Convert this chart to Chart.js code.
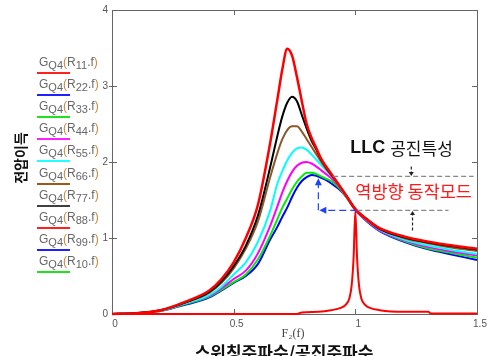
<!DOCTYPE html>
<html>
<head>
<meta charset="utf-8">
<script src="https://cdn.jsdelivr.net/npm/chart.js@4.4.0/dist/chart.umd.min.js"></script>
<style>
body { margin: 0; background: #fff; }
#wrap { position: relative; width: 492px; height: 356px; overflow: hidden; }
.item { position: absolute; left: 39px; font: 12px "Liberation Sans", Arial, sans-serif; color: #666; white-space: nowrap; }
.item .s { position: relative; top: 3px; font-size: 11px; }
.item .p { color: #c8873a; }
.item .ln { position: absolute; left: -2px; top: 17px; width: 33px; height: 2px; }
</style>
</head>
<body>
<div id="wrap">
  <canvas id="gainChart" width="492" height="356"></canvas>
  <div id="legend"></div>
</div>
<script>
// normalised switching frequency
const xs = [0, 0.1, 0.2, 0.3, 0.4, 0.45, 0.5, 0.55, 0.6, 0.65, 0.68, 0.7, 0.72, 0.74, 0.76, 0.78,
            0.8, 0.82, 0.84, 0.86, 0.88, 0.9, 0.93, 0.96, 1.0, 1.05, 1.1, 1.2, 1.3, 1.4, 1.5];

// voltage gain curves
const gainRed     = [0, 0.01, 0.05, 0.16, 0.31, 0.46, 0.68, 1.0, 1.44, 2.25, 2.83, 3.22, 3.49, 3.40, 3.12, 2.8,
                     2.5, 2.32, 2.18, 2.04, 1.94, 1.85, 1.71, 1.57, 1.38, 1.24, 1.13, 1.02, 0.95, 0.9, 0.86];
const gainBlack   = [0, 0.01, 0.05, 0.15, 0.29, 0.43, 0.63, 0.9, 1.3, 1.93, 2.35, 2.6, 2.78, 2.86, 2.8, 2.62,
                     2.44, 2.28, 2.16, 2.03, 1.93, 1.84, 1.71, 1.57, 1.38, 1.24, 1.12, 1.01, 0.94, 0.89, 0.85];
const gainBrown   = [0, 0.01, 0.05, 0.15, 0.28, 0.41, 0.6, 0.86, 1.22, 1.8, 2.12, 2.3, 2.42, 2.47, 2.47, 2.4,
                     2.3, 2.2, 2.1, 2.0, 1.91, 1.83, 1.7, 1.57, 1.38, 1.23, 1.12, 1.0, 0.93, 0.87, 0.83];
const gainCyan    = [0, 0.01, 0.045, 0.14, 0.25, 0.36, 0.52, 0.68, 0.95, 1.36, 1.72, 1.88, 2.02, 2.12, 2.18, 2.19,
                     2.16, 2.1, 2.03, 1.96, 1.89, 1.82, 1.7, 1.56, 1.38, 1.23, 1.11, 0.98, 0.9, 0.84, 0.79];
const gainMagenta = [0, 0.01, 0.045, 0.14, 0.24, 0.34, 0.46, 0.57, 0.8, 1.16, 1.42, 1.6, 1.75, 1.87, 1.95, 1.99,
                     2.0, 1.98, 1.94, 1.89, 1.84, 1.79, 1.69, 1.56, 1.37, 1.22, 1.1, 0.97, 0.88, 0.82, 0.77];
const gainGreen   = [0, 0.01, 0.04, 0.13, 0.23, 0.32, 0.42, 0.52, 0.72, 1.03, 1.25, 1.4, 1.52, 1.64, 1.74, 1.81,
                     1.86, 1.86, 1.84, 1.81, 1.78, 1.75, 1.67, 1.55, 1.37, 1.22, 1.1, 0.96, 0.86, 0.8, 0.74];
const gainBlue    = [0, 0.01, 0.04, 0.12, 0.22, 0.31, 0.41, 0.5, 0.66, 0.98, 1.15, 1.28, 1.4, 1.54, 1.66, 1.75,
                     1.8, 1.83, 1.82, 1.79, 1.76, 1.72, 1.65, 1.55, 1.37, 1.21, 1.09, 0.95, 0.85, 0.78, 0.71];

// narrow resonance spike (reverse operation)
const spikeX = [0, 0.3, 0.76, 0.78, 0.85, 0.9, 0.94, 0.96, 0.975, 0.985, 0.993, 1.0, 1.007, 1.015, 1.025,
                1.04, 1.06, 1.1, 1.2, 1.3, 1.31, 1.5];
const spikeY = [0, 0, 0, 0.02, 0.03, 0.05, 0.08, 0.12, 0.2, 0.38, 0.75, 1.36, 0.75, 0.38, 0.2,
                0.12, 0.08, 0.05, 0.03, 0.03, 0.005, 0.005];

const xTicks = [0, 0.5, 1, 1.5];
const yTicks = [0, 1, 2, 3, 4];

// legend entries
const legendIdx = ['11', '22', '33', '44', '55', '66', '77', '88', '99', '10'];
const legendColors = ['#ff2020', '#2020ff', '#20e020', '#ff20ff', '#20ffff', '#9a5a1a', '#404040', '#ff2020', '#2020ff', '#20e020'];

const legendBox = document.getElementById('legend');
legendIdx.forEach((n, i) => {
    const d = document.createElement('div');
    d.className = 'item';
    d.style.top = (55 + i * 22.1) + 'px';
    d.innerHTML = 'G<span class="s">Q4</span><span class="p">(</span>R<span class="s">' + n +
        '</span>.f<span class="p">)</span><div class="ln" style="background:' + legendColors[i] + '"></div>';
    legendBox.appendChild(d);
});

const pts = arr => xs.map((x, i) => ({ x: x, y: arr[i] }));
const curve = (arr, color, w) => ({
    data: pts(arr), borderColor: color, borderWidth: w, pointRadius: 0,
    cubicInterpolationMode: 'monotone', clip: 3
});

const frame = {
    id: 'frame',
    beforeDatasetsDraw(chart) {
        const { ctx, chartArea: a, scales: { x, y } } = chart;
        ctx.save();
        ctx.strokeStyle = '#666';
        ctx.lineWidth = 1;
        ctx.strokeRect(a.left + 0.5, a.top + 0.5, a.right - a.left, a.bottom - a.top);
        ctx.beginPath();
        [0.5, 1].forEach(v => {
            const px = Math.round(x.getPixelForValue(v)) + 0.5;
            ctx.moveTo(px, a.bottom); ctx.lineTo(px, a.bottom - 5);
            ctx.moveTo(px, a.top); ctx.lineTo(px, a.top + 5);
        });
        [1, 2, 3].forEach(v => {
            const py = Math.round(y.getPixelForValue(v)) + 0.5;
            ctx.moveTo(a.left - 3, py); ctx.lineTo(a.left + 5, py);
            ctx.moveTo(a.right, py); ctx.lineTo(a.right - 5, py);
        });
        ctx.stroke();
        ctx.restore();
    },
    afterDatasetsDraw(chart) {
        const { ctx, scales: { x, y } } = chart;
        const X = v => x.getPixelForValue(v), Y = v => y.getPixelForValue(v);
        ctx.save();

        const dashLine = (x1, y1, x2, y2, color, dash) => {
            ctx.strokeStyle = color; ctx.lineWidth = 1.2; ctx.setLineDash(dash);
            ctx.beginPath(); ctx.moveTo(x1, y1); ctx.lineTo(x2, y2); ctx.stroke();
            ctx.setLineDash([]);
        };
        const head = (x1, y1, x2, y2, color, len, wid) => {
            const ang = Math.atan2(y2 - y1, x2 - x1);
            ctx.fillStyle = color;
            ctx.beginPath();
            ctx.moveTo(x2, y2);
            ctx.lineTo(x2 - len * Math.cos(ang) + wid * Math.sin(ang), y2 - len * Math.sin(ang) - wid * Math.cos(ang));
            ctx.lineTo(x2 - len * Math.cos(ang) - wid * Math.sin(ang), y2 - len * Math.sin(ang) + wid * Math.cos(ang));
            ctx.closePath(); ctx.fill();
        };

        // gray reference lines
        dashLine(X(0.909), Y(1.81), X(1.486), Y(1.81), '#888', [5, 3]);
        dashLine(X(1.008), Y(1.364), X(1.383), Y(1.364), '#888', [5, 3]);

        // blue L-shaped arrows
        dashLine(X(1.008), Y(1.364), X(0.862), Y(1.364), '#2040ff', [7, 4]);
        head(X(1.0), Y(1.364), X(0.852), Y(1.364), '#2040ff', 7, 3.5);
        dashLine(X(0.848), Y(1.364), X(0.848), Y(1.72), '#2040ff', [7, 4]);
        head(X(0.848), Y(1.5), X(0.848), Y(1.785), '#2040ff', 7, 3.5);

        // black small arrows
        dashLine(X(1.23), Y(1.94), X(1.23), Y(1.85), '#222', [3, 2]);
        head(X(1.23), Y(1.94), X(1.23), Y(1.815), '#222', 4, 2.5);
        dashLine(X(1.235), Y(1.1), X(1.235), Y(1.31), '#222', [3, 2]);
        head(X(1.235), Y(1.1), X(1.235), Y(1.355), '#222', 4, 2.5);

        // annotation texts
        ctx.textBaseline = 'middle';
        ctx.textAlign = 'left';
        ctx.fillStyle = '#111';
        let tx = X(0.979);
        ctx.font = 'bold 18px "Liberation Sans", Arial, sans-serif';
        ctx.fillText('LLC', tx, Y(2.18));
        tx += ctx.measureText('LLC').width + 5;
        ctx.font = '17px "Noto Sans CJK KR", sans-serif';
        ctx.fillText('공진특성', tx, Y(2.18));

        ctx.fillStyle = '#ff1a1a';
        ctx.font = '17.5px "Noto Sans CJK KR", sans-serif';
        ctx.fillText('역방향 동작모드', X(1.0), Y(1.61));

        // axis titles
        ctx.fillStyle = '#444';
        ctx.textAlign = 'center';
        ctx.font = '12px "Liberation Serif", serif';
        ctx.fillText('F\u2082(f)', 293, 334);

        ctx.fillStyle = '#111';
        ctx.font = 'bold 17px "Noto Sans CJK KR", sans-serif';
        ctx.textBaseline = 'top';
        ctx.fillText('스위칭주파수/공진주파수', 284, 344);

        ctx.translate(21, 158);
        ctx.rotate(-Math.PI / 2);
        ctx.textBaseline = 'middle';
        ctx.font = 'bold 14px "Noto Sans CJK KR", sans-serif';
        ctx.fillText('전압이득', 0, 0);
        ctx.restore();
    }
};

const ctx = document.getElementById('gainChart').getContext('2d');
new Chart(ctx, {
    type: 'line',
    data: {
        datasets: [
            curve(gainRed, '#ff0000', 2.5),
            { data: spikeX.map((x, i) => ({ x: x, y: spikeY[i] })), borderColor: '#ff0000', borderWidth: 2,
              pointRadius: 0, cubicInterpolationMode: 'monotone', clip: 3 },
            curve(gainBlack, '#000000', 2),
            curve(gainBrown, '#8b5a2b', 2),
            curve(gainCyan, '#00ffff', 2),
            curve(gainMagenta, '#ff00ff', 2),
            curve(gainGreen, '#00ee00', 2),
            curve(gainBlue, '#0000ff', 2)
        ]
    },
    options: {
        responsive: false,
        animation: false,
        layout: { padding: { left: 0, top: 9, right: 15, bottom: 22 } },
        plugins: { legend: { display: false }, tooltip: { enabled: false } },
        scales: {
            x: {
                type: 'linear', min: 0, max: 1.5,
                afterFit: s => { s.height = 20; },
                afterBuildTicks: s => { s.ticks = xTicks.map(v => ({ value: v })); },
                grid: { display: false, drawTicks: false },
                border: { display: false },
                ticks: { color: '#555', font: { size: 10, family: 'Liberation Sans' }, padding: 4,
                         labelOffset: 3, maxRotation: 0, autoSkip: false, callback: v => String(v) }
            },
            y: {
                min: 0, max: 4,
                afterFit: s => { s.width = 112; },
                afterBuildTicks: s => { s.ticks = yTicks.map(v => ({ value: v })); },
                grid: { display: false, drawTicks: false },
                border: { display: false },
                ticks: { color: '#555', font: { size: 10, family: 'Liberation Sans' }, padding: 4,
                         callback: v => String(v) }
            }
        }
    },
    plugins: [frame]
});
</script>
</body>
</html>
